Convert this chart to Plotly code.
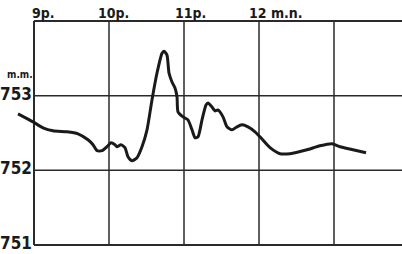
import plotly.graph_objects as go

# Time in hours (9 = 9 p.m.), pressure in mm
hours = [8.787, 8.987, 9.12, 9.253, 9.44, 9.587, 9.72, 9.787, 9.84, 9.907, 9.973,
         10.027, 10.08, 10.107, 10.16, 10.213, 10.253, 10.307, 10.373, 10.44, 10.507,
         10.573, 10.64, 10.707, 10.733, 10.773, 10.8, 10.84, 10.88, 10.907, 10.92,
         10.987, 11.053, 11.107, 11.147, 11.187, 11.24, 11.293, 11.32, 11.373, 11.413,
         11.453, 11.52, 11.573, 11.64, 11.707, 11.773, 11.853, 11.947, 12.013, 12.147,
         12.28, 12.413, 12.64, 12.813, 12.973, 13.08, 13.253, 13.427]
pressure = [752.756, 752.649, 752.569, 752.529, 752.516, 752.489, 752.409, 752.343, 752.263,
            752.263, 752.316, 752.369, 752.343, 752.316, 752.343, 752.303, 752.183, 752.129,
            752.169, 752.316, 752.543, 752.943, 753.303, 753.569, 753.596, 753.543, 753.303,
            753.183, 753.103, 752.983, 752.783, 752.716, 752.676, 752.543, 752.436, 752.449,
            752.676, 752.876, 752.903, 752.849, 752.796, 752.809, 752.716, 752.583, 752.543,
            752.583, 752.609, 752.583, 752.516, 752.449, 752.303, 752.223, 752.223, 752.276,
            752.329, 752.356, 752.316, 752.276, 752.236]

x_grid = [9, 10, 11, 12, 13]
y_grid = [751, 752, 753, 754]
y_ticks = [751, 752, 753]
y_labels = ["751", "752", "753"]
time_labels = ["9p.", "10p.", "11p.", "12 m.n."]
time_label_pos = [8.947, 9.827, 10.853, 11.84]

FONT = "Liberation Sans Narrow, DejaVu Sans Condensed, Liberation Sans, Arial, sans-serif"
INK = "#1a1a1a"
X0, X1 = 9 - 34 / 75, 9 + 368 / 75
Y0, Y1 = 751 - 2 / 75, 754 + 2 / 75

fig = go.Figure()

for xv in x_grid:
    fig.add_shape(type="line", xref="x", yref="y", x0=xv, x1=xv, y0=y_grid[0], y1=y_grid[-1],
                  line=dict(color="#2a2a2a", width=2 if xv == x_grid[0] else 1.5), layer="below")
for yv in y_grid:
    fig.add_shape(type="line", xref="x", yref="y", x0=x_grid[0], x1=X1, y0=yv, y1=yv,
                  line=dict(color="#2a2a2a", width=2 if yv in (751, 754) else 1.5), layer="below")

fig.add_trace(go.Scatter(x=hours, y=pressure, mode="lines",
                         line=dict(color=INK, width=3, shape="spline", smoothing=0.6),
                         hoverinfo="skip"))

for xv, txt in zip(time_label_pos, time_labels):
    fig.add_annotation(x=xv, xref="x", y=754, yref="y", yanchor="bottom", xanchor="left",
                       text="<b>%s</b>" % txt, showarrow=False, yshift=-2,
                       font=dict(family=FONT, size=14, color=INK))

for yv, txt in zip(y_ticks, y_labels):
    fig.add_annotation(x=9, xref="x", y=yv, yref="y", xanchor="right", yanchor="middle",
                       text="<b>%s</b>" % txt, showarrow=False, xshift=0, yshift=2,
                       font=dict(family=FONT, size=17, color=INK))

fig.add_annotation(x=9, xref="x", y=753, yref="y", xanchor="right", yanchor="bottom",
                   text="<b>m.m.</b>", showarrow=False, xshift=1, yshift=14,
                   font=dict(family=FONT, size=10, color=INK))

fig.update_layout(
    width=402, height=254,
    margin=dict(l=0, r=0, t=19, b=7),
    paper_bgcolor="white", plot_bgcolor="white",
    showlegend=False,
    xaxis=dict(range=[X0, X1], visible=False, showgrid=False, zeroline=False),
    yaxis=dict(range=[Y0, Y1], visible=False, showgrid=False, zeroline=False),
)

fig.write_html("out.html", config={"displayModeBar": False},
               post_script="document.body.style.margin='0';")
